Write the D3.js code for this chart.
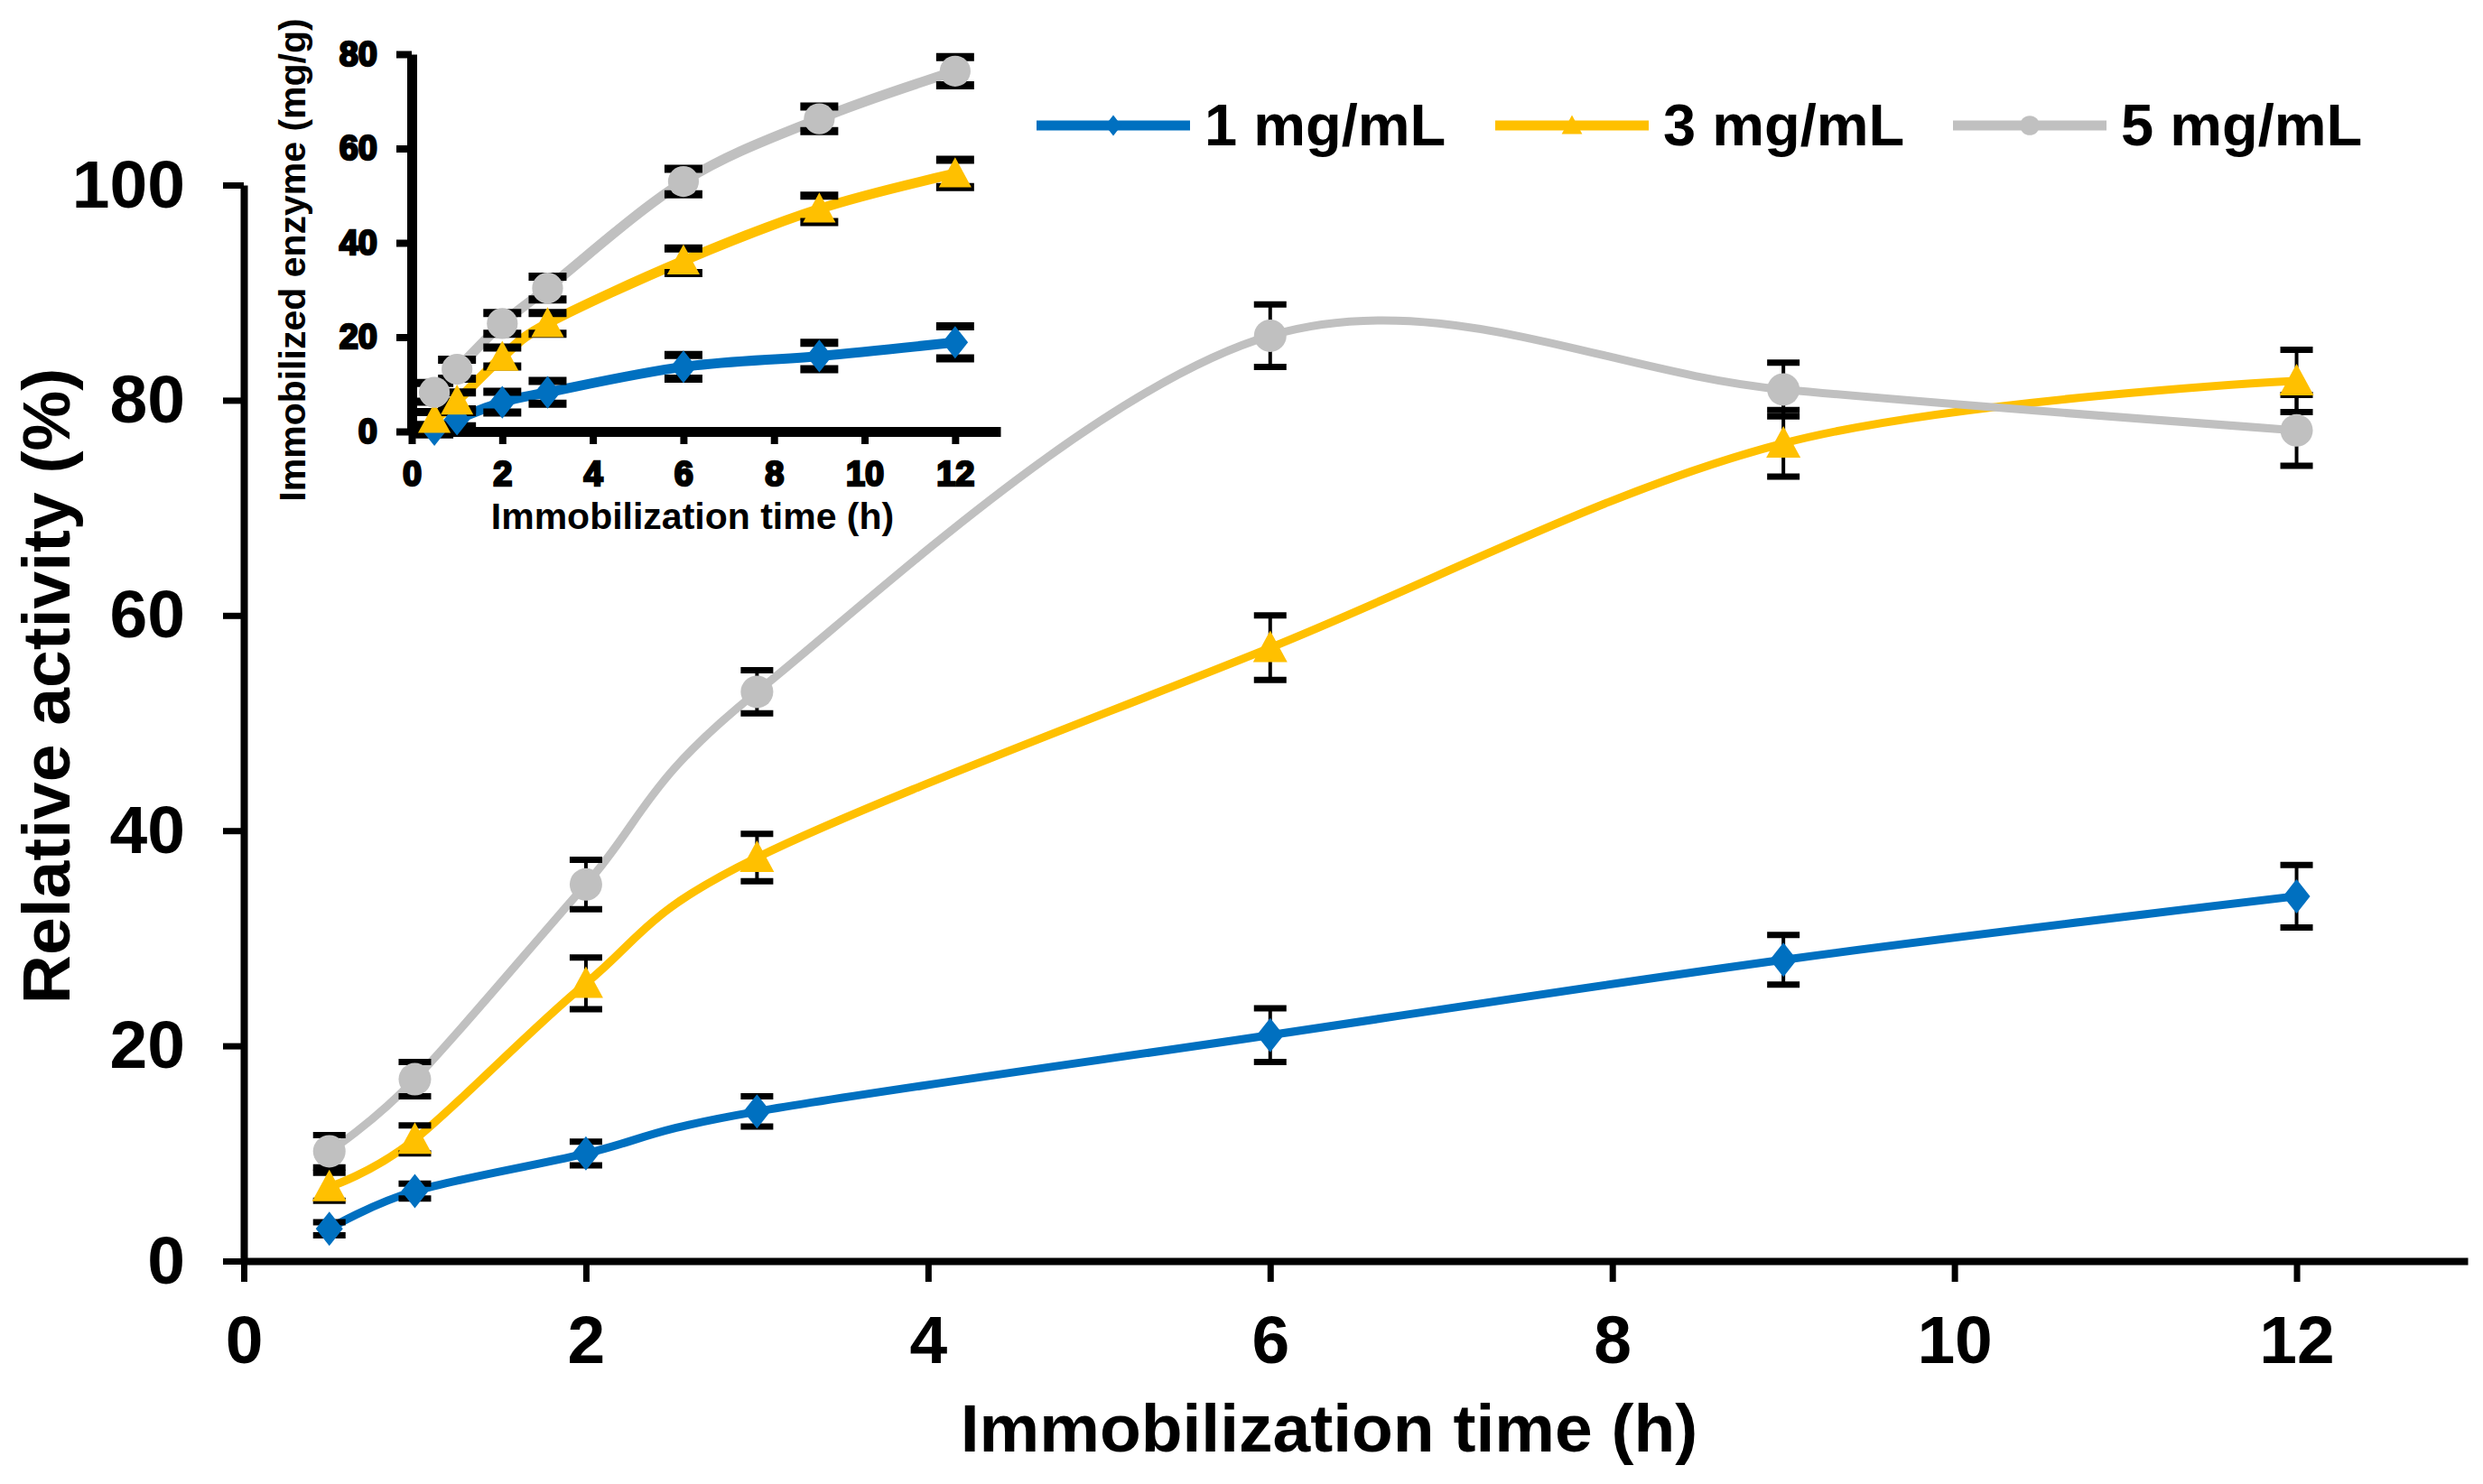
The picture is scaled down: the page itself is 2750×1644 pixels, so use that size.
<!DOCTYPE html>
<html>
<head>
<meta charset="utf-8">
<script src="https://cdn.jsdelivr.net/npm/d3@7"></script>
<style>
body { margin: 0; background: #fff; }
svg text { font-family: "Liberation Sans", Arial, sans-serif; font-weight: bold; fill: #000; }
</style>
</head>
<body>
<svg id="chart" width="2750" height="1644"></svg>
<script>
// ---- data ----
const times = [0.5, 1, 2, 3, 6, 9, 12];
const seriesNames = ["1 mg/mL", "3 mg/mL", "5 mg/mL"];
const seriesColors = ["#0070C0", "#FFC000", "#C0C0C0"];
const seriesMarkers = ["diamond", "triangle", "circle"];

// main chart: relative activity (%)
const activity1 = [3.0, 6.5, 10.0, 13.9, 21.0, 28.0, 33.9];
const activity3 = [6.9, 11.3, 25.8, 37.5, 57.0, 76.0, 81.8];
const activity5 = [10.2, 16.9, 35.0, 52.9, 86.0, 81.0, 77.2];
const activityErr1 = [0.6, 0.7, 1.1, 1.4, 2.5, 2.3, 2.9];
const activityErr3 = [1.3, 1.3, 2.4, 2.2, 3.0, 3.1, 2.9];
const activityErr5 = [1.5, 1.6, 2.3, 2.0, 2.9, 2.5, 3.3];

// inset: immobilized enzyme (mg/g)
const enzyme1 = [0.4, 2.6, 6.2, 8.3, 13.7, 16.0, 18.9];
const enzyme3 = [2.6, 6.5, 15.8, 22.9, 36.2, 47.2, 54.7];
const enzyme5 = [8.3, 13.2, 22.9, 30.4, 53.0, 66.3, 76.4];
const enzymeErr1 = [1.0, 1.5, 2.2, 2.4, 2.5, 2.8, 3.4];
const enzymeErr3 = [1.5, 1.8, 2.0, 2.2, 2.6, 2.8, 2.9];
const enzymeErr5 = [2.0, 2.0, 2.2, 2.4, 2.7, 2.6, 3.0];

const xTicks = [0, 2, 4, 6, 8, 10, 12];
const yTicks = [0, 20, 40, 60, 80, 100];
const insetYTicks = [0, 20, 40, 60, 80];

const svg = d3.select("#chart");

function toSeries(values, errors) {
    return values.map((v, i) => ({ t: times[i], v: v, e: errors[i] }));
}

const mainSeries = [
    toSeries(activity1, activityErr1),
    toSeries(activity3, activityErr3),
    toSeries(activity5, activityErr5)
];
const insetSeries = [
    toSeries(enzyme1, enzymeErr1),
    toSeries(enzyme3, enzymeErr3),
    toSeries(enzyme5, enzymeErr5)
];

/**
 * markerPath: shape of a marker around (0,0)
 */
function markerPath(type, s) {
    if (type === "diamond") return `M0,${-19 * s}L${15 * s},0L0,${19 * s}L${-15 * s},0Z`;
    if (type === "triangle") return `M0,${-19 * s}L${19 * s},${16 * s}L${-19 * s},${16 * s}Z`;
    const r = 18 * s;
    return `M${-r},0A${r},${r} 0 1,0 ${r},0A${r},${r} 0 1,0 ${-r},0Z`;
}

/**
 * drawAxis: d3 axis with thick black strokes
 */
function drawAxis({ container, axis, transform, lineWidth, tickWidth, fontSize, labelStroke }) {
    const g = container.append("g")
        .attr("transform", transform)
        .call(axis);
    g.select(".domain").attr("stroke", "#000").attr("stroke-width", lineWidth);
    g.selectAll(".tick line").attr("stroke", "#000").attr("stroke-width", tickWidth);
    g.selectAll(".tick text")
        .attr("fill", "#000")
        .attr("font-size", fontSize)
        .attr("font-family", "'Liberation Sans', Arial, sans-serif")
        .attr("font-weight", "bold")
        .attr("stroke", labelStroke ? "#000" : null)
        .attr("stroke-width", labelStroke || null);
    return g;
}

/**
 * drawSeries: smoothed lines, error bars and markers
 */
function drawSeries({ container, data, xScale, yScale, lineWidth, capHalf, capWidth, stemWidth, markerScale }) {
    const line = d3.line()
        .x(d => xScale(d.t))
        .y(d => yScale(d.v))
        .curve(d3.curveCardinal.tension(0));

    data.forEach((series, i) => {
        container.append("path")
            .datum(series)
            .attr("d", line)
            .attr("fill", "none")
            .attr("stroke", seriesColors[i])
            .attr("stroke-width", lineWidth)
            .attr("stroke-linejoin", "round")
            .attr("stroke-linecap", "round");
    });

    data.forEach(series => {
        const bars = container.append("g").selectAll("g")
            .data(series)
            .enter()
            .append("g");
        bars.append("line")
            .attr("x1", d => xScale(d.t)).attr("x2", d => xScale(d.t))
            .attr("y1", d => yScale(d.v - d.e)).attr("y2", d => yScale(d.v + d.e))
            .attr("stroke", "#000").attr("stroke-width", stemWidth);
        [-1, 1].forEach(sign => {
            bars.append("line")
                .attr("x1", d => xScale(d.t) - capHalf).attr("x2", d => xScale(d.t) + capHalf)
                .attr("y1", d => yScale(d.v + sign * d.e)).attr("y2", d => yScale(d.v + sign * d.e))
                .attr("stroke", "#000").attr("stroke-width", capWidth);
        });
    });

    data.forEach((series, i) => {
        container.append("g").selectAll("path")
            .data(series)
            .enter()
            .append("path")
            .attr("transform", d => `translate(${xScale(d.t)},${yScale(d.v)})`)
            .attr("d", markerPath(seriesMarkers[i], markerScale))
            .attr("fill", seriesColors[i]);
    });
}

// ---- main chart ----
const x = d3.scaleLinear().domain([0, 13]).range([270, 2733]);
const y = d3.scaleLinear().domain([0, 100]).range([1397, 205]);

drawAxis({
    container: svg,
    axis: d3.axisBottom(x).tickValues(xTicks).tickSize(23).tickSizeOuter(0).tickPadding(37),
    transform: `translate(0,${y(0)})`,
    lineWidth: 8, tickWidth: 7, fontSize: 75
});
drawAxis({
    container: svg,
    axis: d3.axisLeft(y).tickValues(yTicks).tickSize(23).tickSizeOuter(0).tickPadding(42),
    transform: `translate(${x(0)},0)`,
    lineWidth: 8, tickWidth: 7, fontSize: 75
});

svg.append("text")
    .attr("x", 1472).attr("y", 1608)
    .attr("text-anchor", "middle")
    .attr("font-size", 75)
    .text("Immobilization time (h)");

svg.append("text")
    .attr("transform", "translate(77,760) rotate(-90)")
    .attr("text-anchor", "middle")
    .attr("font-size", 75)
    .text("Relative activity (%)");

// ---- inset chart ----
const xi = d3.scaleLinear().domain([0, 13]).range([456, 1108]);
const yi = d3.scaleLinear().domain([0, 80]).range([478, 60]);

const inset = svg.append("g").attr("class", "inset");

drawAxis({
    container: inset,
    axis: d3.axisBottom(xi).tickValues(xTicks).tickSize(14).tickSizeOuter(0).tickPadding(19),
    transform: `translate(0,${yi(0)})`,
    lineWidth: 11, tickWidth: 8, fontSize: 38, labelStroke: 2.5
});
drawAxis({
    container: inset,
    axis: d3.axisLeft(yi).tickValues(insetYTicks).tickSize(17).tickSizeOuter(0).tickPadding(21),
    transform: `translate(${xi(0)},0)`,
    lineWidth: 11, tickWidth: 8, fontSize: 38, labelStroke: 2.5
});

inset.append("text")
    .attr("x", 767).attr("y", 586)
    .attr("text-anchor", "middle")
    .attr("font-size", 41)
    .text("Immobilization time (h)");

inset.append("text")
    .attr("transform", "translate(338,288) rotate(-90)")
    .attr("text-anchor", "middle")
    .attr("font-size", 41)
    .text("Immobilized enzyme (mg/g)");

drawSeries({
    container: inset, data: insetSeries, xScale: xi, yScale: yi,
    lineWidth: 11, capHalf: 21, capWidth: 9, stemWidth: 5, markerScale: 0.95
});

drawSeries({
    container: svg.append("g"), data: mainSeries, xScale: x, yScale: y,
    lineWidth: 9, capHalf: 18, capWidth: 7, stemWidth: 4, markerScale: 1
});

// ---- legend ----
const legendX = [1148, 1656, 2163];
const legend = svg.append("g").selectAll("g")
    .data(seriesNames)
    .enter()
    .append("g")
    .attr("transform", (d, i) => `translate(${legendX[i]},139)`);
legend.append("line")
    .attr("x1", 0).attr("x2", 170)
    .attr("stroke", (d, i) => seriesColors[i])
    .attr("stroke-width", 11);
legend.append("path")
    .attr("transform", "translate(85,0)")
    .attr("d", (d, i) => markerPath(seriesMarkers[i], 0.6))
    .attr("fill", (d, i) => seriesColors[i]);
legend.append("text")
    .attr("x", 186).attr("y", 22)
    .attr("font-size", 65)
    .text(d => d);
</script>
</body>
</html>
